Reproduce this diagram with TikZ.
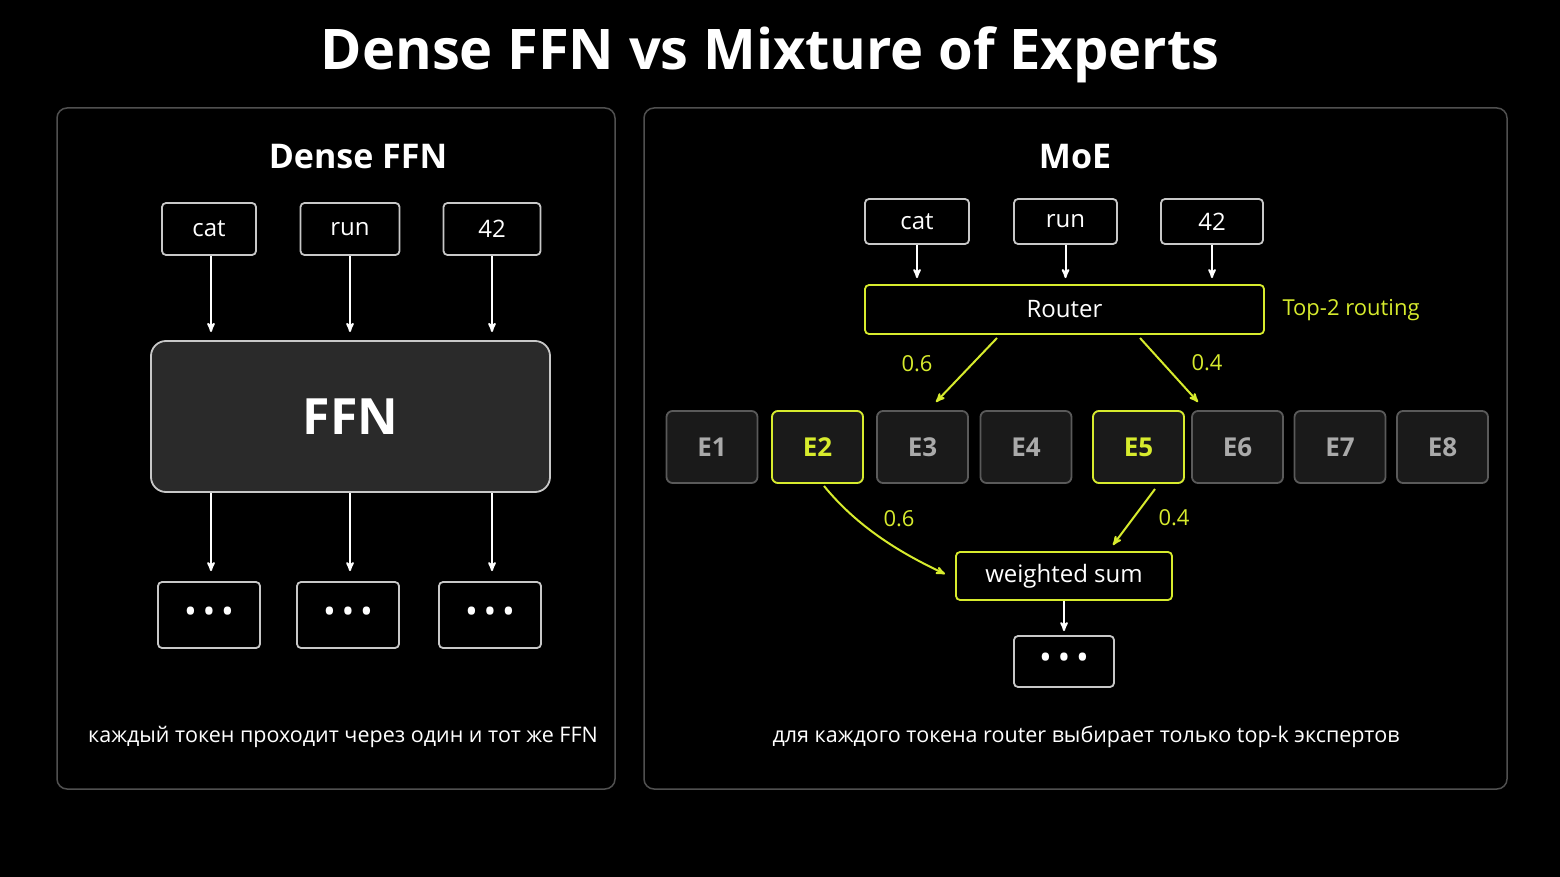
\documentclass[tikz,border=0pt]{standalone}
\usepackage{fontspec}
\setmainfont{Open Sans}
\usepackage{tikz}
\usetikzlibrary{arrows}
\definecolor{custcol_bg}{RGB}{0,0,0}
\definecolor{custcol_panel}{RGB}{80,80,80}
\definecolor{custcol_box}{RGB}{200,200,200}
\definecolor{custcol_ffn}{RGB}{42,42,42}
\definecolor{custcol_exp}{RGB}{26,26,26}
\definecolor{custcol_expline}{RGB}{90,90,90}
\definecolor{custcol_exptext}{RGB}{170,170,170}
\definecolor{custcol_hl}{RGB}{215,235,45}
\tikzset{
  tokbox/.style={draw=custcol_box, line width=1.8pt, rounded corners=4pt, fill=black, text=white, inner sep=0, font=\fontsize{24pt}{24pt}\selectfont},
  expbox/.style={draw=custcol_expline, line width=1.8pt, rounded corners=6pt, fill=custcol_exp, text=custcol_exptext, inner sep=0, minimum width=91pt, minimum height=72pt, font=\fontsize{26pt}{26pt}\bfseries\selectfont},
  hlbox/.style={draw=custcol_hl, text=custcol_hl},
  wire/.style={-stealth', white, line width=2pt},
  hlwire/.style={-stealth', custcol_hl, line width=2pt},
  wlabel/.style={text=custcol_hl, font=\fontsize{22pt}{22pt}\selectfont},
  panel/.style={draw=custcol_panel, line width=1.5pt, rounded corners=10pt}
}
\newcommand{\tokdots}{\fontsize{34pt}{34pt}\selectfont\raisebox{-2pt}{\textbullet\,\textbullet\,\textbullet}}
\begin{document}
\begin{tikzpicture}[x=1pt,y=-1pt]
  \fill [custcol_bg] (0,0) rectangle (1560,877);
  \useasboundingbox (0,0) rectangle (1560,877);
  \node[white, font=\fontsize{56pt}{56pt}\bfseries\selectfont] (title) at (770,55) {Dense FFN vs Mixture of Experts};
  \draw [panel] (57,108) rectangle (615,789);
  \draw [panel] (644,108) rectangle (1507,789);
  % dense side
  \node[white, font=\fontsize{34pt}{34pt}\bfseries\selectfont] (densehead) at (358,157) {Dense FFN};
  \node[tokbox, minimum width=94pt, minimum height=52pt] (dcat) at (209,229) {cat};
  \node[tokbox, minimum width=99pt, minimum height=52pt] (drun) at (350,229) {run};
  \node[tokbox, minimum width=97pt, minimum height=52pt] (dnum) at (492,229) {42};
  \node[draw=custcol_box, line width=1.8pt, rounded corners=15pt, fill=custcol_ffn, text=white, minimum width=399pt, minimum height=151pt, font=\fontsize{50pt}{50pt}\bfseries\selectfont] (ffn) at (350.5,416.5) {FFN};
  \foreach \x/\tok/\name in {211/dcat/dout1, 350/drun/dout2, 492/dnum/dout3}{
    \node[tokbox, minimum width=102pt, minimum height=66pt] (\name) at (\x-2,615) {\tokdots};
    \draw [wire] (\tok.south -| \x,0) -- (\x,332);
    \draw [wire, shorten >=10pt] (ffn.south -| \x,0) -- (\name.north -| \x,0);
  }
  \node[white, font=\fontsize{21.5pt}{21.5pt}\selectfont] (densecap) at (343,737) {каждый токен проходит через один и тот же FFN};
  % moe side
  \node[white, font=\fontsize{34pt}{34pt}\bfseries\selectfont] (moehead) at (1075,157) {MoE};
  \node[tokbox, minimum width=104pt, minimum height=45pt] (mcat) at (917,221.5) {cat};
  \node[tokbox, minimum width=103pt, minimum height=45pt] (mrun) at (1065.5,221.5) {run};
  \node[tokbox, minimum width=102pt, minimum height=45pt] (mnum) at (1212,221.5) {42};
  \node[tokbox, hlbox, text=white, minimum width=399pt, minimum height=49pt] (router) at (1064.5,309.5) {Router};
  \node[anchor=west, wlabel] (routelbl) at (1279,310) {Top-2 routing};
  \foreach \tok in {mcat, mrun, mnum}
    \draw [wire, shorten >=6pt] (\tok.south) -- (\tok.south |- router.north);
  \foreach \i/\x in {1/712,2/817.5,3/922.5,4/1026,5/1138.5,6/1237.5,7/1340,8/1442.5}
    \node[expbox] (e\i) at (\x,447) {E\i};
  \node[expbox, hlbox] at (e2) {E2};
  \node[expbox, hlbox] at (e5) {E5};
  \draw [hlwire] (997,338) -- (936,402);
  \draw [hlwire] (1140,338) -- (1198,402);
  \node[wlabel] (r06) at (917,364) {0.6};
  \node[wlabel] (r04) at (1207,363) {0.4};
  \node[tokbox, hlbox, text=white, minimum width=216pt, minimum height=48pt] (wsum) at (1064,576) {weighted sum};
  \draw [hlwire] (824,486) .. controls (860,530) and (905,555) .. (945,574);
  \draw [hlwire] (1155,489) -- (1113,545);
  \node[wlabel] (w06) at (899,519) {0.6};
  \node[wlabel] (w04) at (1174,518) {0.4};
  \node[tokbox, minimum width=100pt, minimum height=51pt] (mout) at (1064,661.5) {\tokdots};
  \draw [wire, shorten >=4pt] (wsum.south) -- (mout.north);
  \node[white, font=\fontsize{21.5pt}{21.5pt}\selectfont] (moecap) at (1086,737) {для каждого токена router выбирает только top-k экспертов};
\end{tikzpicture}
\end{document}
